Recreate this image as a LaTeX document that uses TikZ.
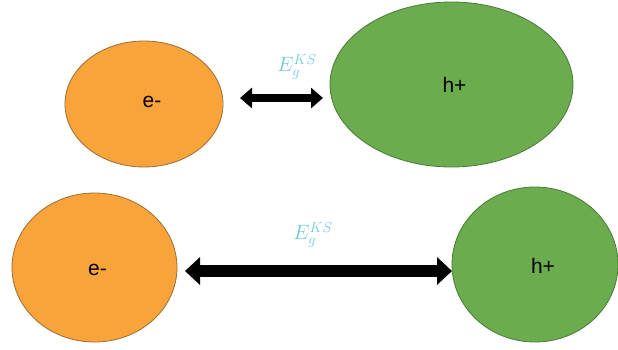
\documentclass[tikz,border=0pt]{standalone}
\usepackage{fontspec}
\setmainfont{Liberation Sans}
\usetikzlibrary{shapes.geometric,arrows.meta}
\definecolor{eorange}{HTML}{F9A33B}
\definecolor{eorangeline}{HTML}{9C6E33}
\definecolor{hgreen}{HTML}{6AAC4E}
\definecolor{hgreenline}{HTML}{4C7A38}
\definecolor{labcyan}{HTML}{6FCBD9}
\begin{document}
\begin{tikzpicture}[x=1pt,y=-1pt,
  particle/.style={ellipse,inner sep=0pt,outer sep=0pt,line width=0.8pt},
  electron/.style={particle,draw=eorangeline,fill=eorange},
  hole/.style={particle,draw=hgreenline,fill=hgreen},
  ptext/.style={font=\fontsize{21}{24}\selectfont,inner sep=0pt},
  gaplabel/.style={text=labcyan,font=\fontsize{21}{24}\selectfont,inner sep=0pt},
  smallarrow/.style={line width=8pt,{Triangle[length=12pt,width=20pt]}-{Triangle[length=12pt,width=20pt]}},
  bigarrow/.style={line width=12pt,{Triangle[length=15pt,width=27pt]}-{Triangle[length=15pt,width=27pt]}}
]
\useasboundingbox (0,0) rectangle (618,349);
% top row
\node[electron,minimum width=158pt,minimum height=126pt,
  label={[ptext,xshift=8pt,yshift=2pt]center:e-}] (e1) at (144,104) {};
\node[hole,minimum width=243pt,minimum height=165pt,
  label={[ptext,xshift=3pt,yshift=0pt]center:h+}] (h1) at (451.5,84.5) {};
\coordinate (a1) at (240,98);
\coordinate (b1) at (323,98);
\draw[smallarrow] (a1) -- (b1);
\node[gaplabel] (l1) at (297,67) {$E_g^{KS}$};
% bottom row
\node[electron,minimum width=165pt,minimum height=149pt,
  label={[ptext,xshift=3pt,yshift=-2pt]center:e-}] (e2) at (94.5,267.5) {};
\node[hole,minimum width=166pt,minimum height=155pt,
  label={[ptext,xshift=8pt,yshift=-1pt]center:h+}] (h2) at (535,264.5) {};
\coordinate (a2) at (185,271);
\coordinate (b2) at (452,271);
\draw[bigarrow] (a2) -- (b2);
\node[gaplabel] (l2) at (313,235) {$E_g^{KS}$};
\end{tikzpicture}
\end{document}
